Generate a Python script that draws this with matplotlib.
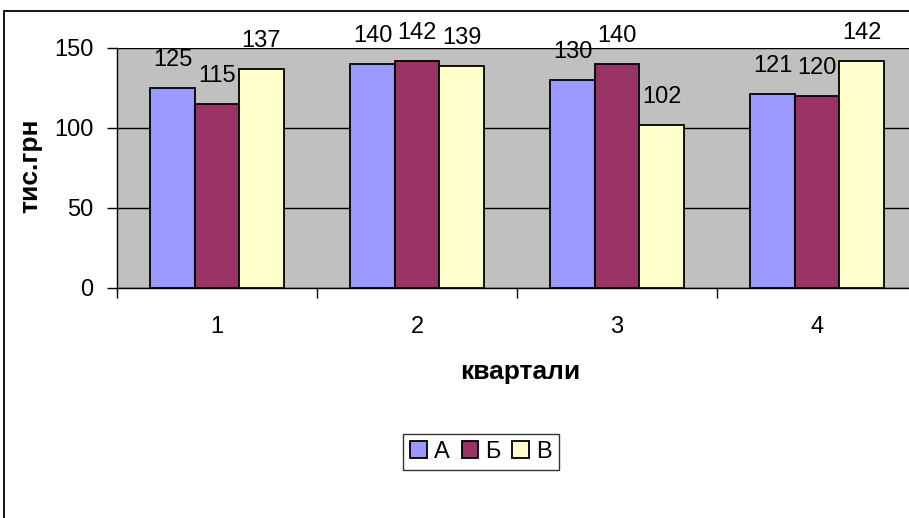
import matplotlib
matplotlib.use("Agg")
import matplotlib.pyplot as plt
from matplotlib.patches import Rectangle, Patch
import numpy as np

plt.rcParams['font.family'] = ['Liberation Sans', 'DejaVu Sans']

quarters = ["1", "2", "3", "4"]
series_names = ["А", "Б", "В"]
values_a = [125, 140, 130, 121]
values_b = [115, 142, 140, 120]
values_v = [137, 139, 102, 142]
colors = ["#9999FF", "#993366", "#FFFFCC"]

W, H = 909, 518
fig = plt.figure(figsize=(W / 100, H / 100), dpi=100)
fig.patch.set_facecolor("white")

# outer chart border
fig.add_artist(Rectangle((4 / W, -0.1), 1.2, 1 - 11 / H + 0.1,
                         transform=fig.transFigure, fill=False,
                         edgecolor="black", linewidth=1.3))

ax = fig.add_axes([117 / W, 1 - 288 / H, 800 / W, 240 / H])
ax.set_facecolor("#C0C0C0")

x = np.arange(len(quarters))
bw = 1 / 4.5
for i, (vals, col) in enumerate(zip([values_a, values_b, values_v], colors)):
    pos = x + (i - 1) * bw
    ax.bar(pos, vals, width=bw, color=col, edgecolor="black",
           linewidth=1.3, zorder=3, label=series_names[i])
    for px, v in zip(pos, vals):
        ax.annotate(str(v), (px, v), xytext=(0, 28), textcoords="offset pixels",
                    ha="center", va="center", fontsize=17, zorder=4,
                    annotation_clip=False)

ax.set_xlim(-0.5, len(quarters) - 0.5)
ax.set_ylim(0, 150)
ax.set_yticks([0, 50, 100, 150])
ax.yaxis.grid(True, color="black", linewidth=1.0, zorder=1)
ax.set_axisbelow(True)

ax.set_xticks(x)
ax.set_xticklabels(quarters)
ax.set_xticks(np.arange(len(quarters) + 1) - 0.5, minor=True)
ax.tick_params(axis="x", which="major", length=0, pad=20, labelsize=17)
ax.tick_params(axis="x", which="minor", length=7, width=1, direction="out")
ax.tick_params(axis="y", length=7, width=1, direction="out", pad=10, labelsize=17)

for s in ["top", "right"]:
    ax.spines[s].set_visible(False)
ax.spines["left"].set_color("black")
ax.spines["bottom"].set_color("black")
ax.spines["left"].set_linewidth(1.0)
ax.spines["bottom"].set_linewidth(1.0)

fig.text(30 / W, 1 - 166 / H, "тис.грн", rotation=90, ha="center", va="center",
         fontsize=19, fontweight="bold")
fig.text(520 / W, 1 - 372 / H, "квартали", ha="center", va="center",
         fontsize=19, fontweight="bold")

handles = [Patch(facecolor=c, edgecolor="black", linewidth=1.3, label=n)
           for c, n in zip(colors, series_names)]
leg = fig.legend(handles=handles, loc="center", bbox_to_anchor=(481 / W, 1 - 452 / H),
                 ncol=3, fontsize=17, frameon=True, fancybox=False,
                 handlelength=0.7, handleheight=0.7, handletextpad=0.3,
                 columnspacing=0.5, borderpad=0.3, borderaxespad=0)
leg.get_frame().set_edgecolor("black")
leg.get_frame().set_linewidth(1.0)

fig.savefig("out.png", dpi=100)
